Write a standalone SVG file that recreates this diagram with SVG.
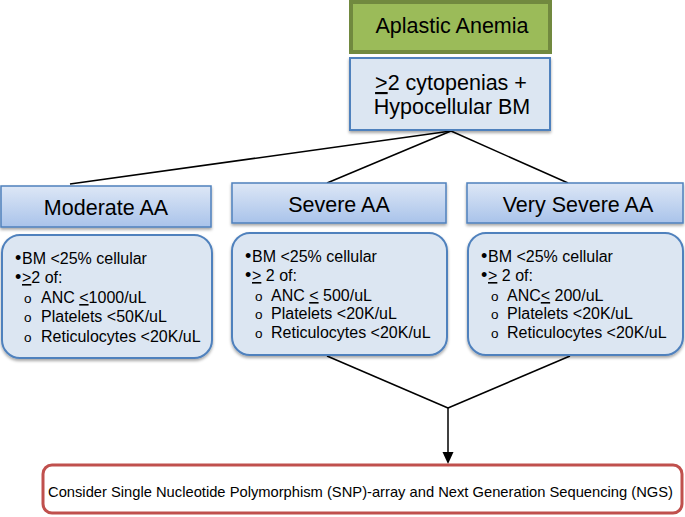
<svg xmlns="http://www.w3.org/2000/svg" width="685" height="517" viewBox="0 0 685 517">
<style>
  text { font-family: "Liberation Sans", Arial, sans-serif; fill: #000; }
  .hdr { font-size: 21.5px; text-anchor: middle; }
  .top { font-size: 21.5px; text-anchor: middle; }
  .b { font-size: 16px; }
  .d { font-size: 18px; }
  .o { font-size: 13.5px; }
  .u { text-decoration: underline; }
  .ln { stroke: #000; stroke-width: 1.5; fill: none; }
  .hbox { fill: url(#hg); stroke: #4f81bd; stroke-width: 1.5; filter: url(#sh); }
  .dbox { fill: #dce6f2; stroke: #4f81bd; stroke-width: 2; filter: url(#sh); }
</style>
<defs>
  <linearGradient id="hg" x1="0" y1="0" x2="0" y2="1">
    <stop offset="0" stop-color="#dde7f6"/>
    <stop offset="1" stop-color="#a9c3ea"/>
  </linearGradient>
  <filter id="sh" x="-10%" y="-10%" width="120%" height="130%">
    <feDropShadow dx="0" dy="2" stdDeviation="1.5" flood-color="#000" flood-opacity="0.35"/>
  </filter>
</defs>

<g id="connectors">
  <line class="ln" x1="451" y1="131" x2="70" y2="184"/>
  <line class="ln" x1="451" y1="131" x2="327" y2="183"/>
  <line class="ln" x1="451" y1="131" x2="568" y2="183"/>
  <line class="ln" x1="327" y1="356" x2="448" y2="408"/>
  <line class="ln" x1="570" y1="356" x2="448" y2="408"/>
  <line class="ln" x1="448" y1="408" x2="448" y2="453"/>
  <path d="M442.5,452 L453.5,452 L448,464 Z" fill="#000"/>
</g>

<g id="aplastic-anemia">
  <rect x="351" y="2" width="199" height="50" fill="#9bbb59" stroke="#71893f" stroke-width="4"/>
  <text class="top" x="452" y="33">Aplastic Anemia</text>
</g>

<g id="criteria">
  <rect x="350" y="58" width="200" height="72" fill="#dce6f2" stroke="#4f81bd" stroke-width="2" filter="url(#sh)"/>
  <text class="top" x="451" y="90"><tspan class="u">&gt;</tspan>2 cytopenias +</text>
  <text class="top" x="452" y="114">Hypocellular BM</text>
</g>

<g id="moderate-header">
  <rect class="hbox" x="1" y="186" width="210" height="41"/>
  <text class="hdr" x="106" y="215">Moderate AA</text>
</g>
<g id="severe-header">
  <rect class="hbox" x="232" y="183" width="214" height="40"/>
  <text class="hdr" x="339" y="212">Severe AA</text>
</g>
<g id="very-severe-header">
  <rect class="hbox" x="467" y="183" width="216" height="40"/>
  <text class="hdr" x="578" y="212">Very Severe AA</text>
</g>

<g id="moderate-details">
  <rect class="dbox" x="2" y="235" width="210" height="123" rx="18"/>
  <text class="d" x="15" y="264">•</text><text class="b" x="22" y="264">BM &lt;25% cellular</text>
  <text class="d" x="15" y="283">•</text><text class="b" x="22" y="283"><tspan class="u">&gt;</tspan>2 of:</text>
  <text class="o" x="24" y="303">o</text><text class="b" x="41" y="303">ANC <tspan class="u">&lt;</tspan>1000/uL</text>
  <text class="o" x="24" y="322">o</text><text class="b" x="41" y="322">Platelets &lt;50K/uL</text>
  <text class="o" x="24" y="342">o</text><text class="b" x="41" y="342">Reticulocytes &lt;20K/uL</text>
</g>

<g id="severe-details">
  <rect class="dbox" x="232" y="233" width="215" height="122" rx="18"/>
  <text class="d" x="245" y="262">•</text><text class="b" x="252" y="262">BM &lt;25% cellular</text>
  <text class="d" x="245" y="281">•</text><text class="b" x="252" y="281"><tspan class="u">&gt;</tspan> 2 of:</text>
  <text class="o" x="255" y="301">o</text><text class="b" x="271" y="301">ANC <tspan class="u">&lt;</tspan> 500/uL</text>
  <text class="o" x="255" y="319">o</text><text class="b" x="271" y="319">Platelets &lt;20K/uL</text>
  <text class="o" x="255" y="338">o</text><text class="b" x="271" y="338">Reticulocytes &lt;20K/uL</text>
</g>

<g id="very-severe-details">
  <rect class="dbox" x="468" y="233" width="215" height="122" rx="18"/>
  <text class="d" x="481" y="262">•</text><text class="b" x="488" y="262">BM &lt;25% cellular</text>
  <text class="d" x="481" y="281">•</text><text class="b" x="488" y="281"><tspan class="u">&gt;</tspan> 2 of:</text>
  <text class="o" x="491" y="301">o</text><text class="b" x="507" y="301">ANC<tspan class="u">&lt;</tspan> 200/uL</text>
  <text class="o" x="491" y="319">o</text><text class="b" x="507" y="319">Platelets &lt;20K/uL</text>
  <text class="o" x="491" y="338">o</text><text class="b" x="507" y="338">Reticulocytes &lt;20K/uL</text>
</g>

<g id="consider">
  <rect x="43" y="465" width="639" height="48" rx="9" fill="#fff" stroke="#c0504d" stroke-width="3"/>
  <text x="48" y="497" font-size="15" textLength="625" lengthAdjust="spacingAndGlyphs">Consider Single Nucleotide Polymorphism (SNP)-array and Next Generation Sequencing (NGS)</text>
</g>
</svg>
